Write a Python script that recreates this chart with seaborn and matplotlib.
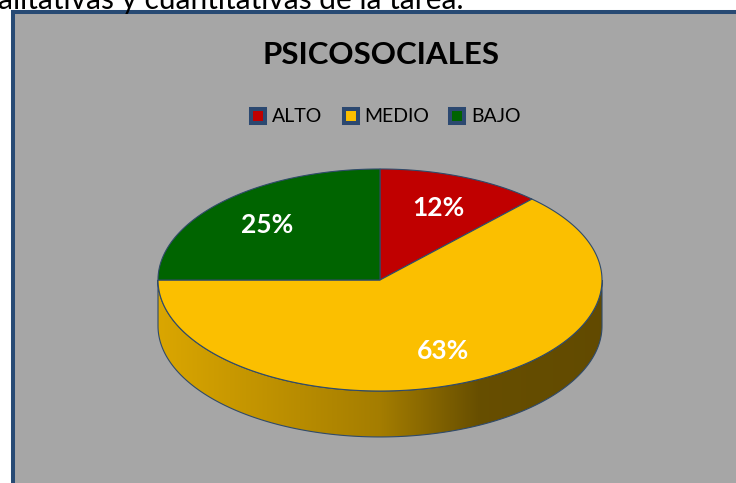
import numpy as np
import matplotlib
matplotlib.use("Agg")
import matplotlib.pyplot as plt
from matplotlib.patches import Polygon, Rectangle
from matplotlib.lines import Line2D
from matplotlib.colors import to_rgb
import seaborn as sns

# datos del gráfico
categorias = ["ALTO", "MEDIO", "BAJO"]
porcentajes = [12, 63, 25]
colores = ["#C00000", "#FBBF00", "#006400"]
titulo = "PSICOSOCIALES"
texto_superior = "alitativas y cuantitativas de la tarea."

sns.set_theme(style="white")
plt.rcParams["font.family"] = ["Lato", "DejaVu Sans"]
plt.rcParams["text.color"] = "black"

W, H = 736, 483
fig = plt.figure(figsize=(W / 100, H / 100), dpi=100)
fig.patch.set_facecolor("white")

# texto del documento cortado arriba
fig.text(-2 / W, 1 - 9 / H, texto_superior, fontsize=21.5, va="baseline", ha="left", color="black")

# cuadro gris del área del gráfico
fig.add_artist(Rectangle((12.5 / W, -0.1), 1.2, 1 - 11.5 / H + 0.1, transform=fig.transFigure,
                         facecolor="#A6A6A6", edgecolor="#274A74", linewidth=2.9, zorder=0))

fig.text(381 / W, 1 - 55 / H, titulo, fontsize=22.5, fontweight="bold", ha="center", va="center",
         color="black")

# leyenda
handles = [Line2D([], [], linestyle="none", marker="s", markersize=9.4, markerfacecolor=c,
                  markeredgecolor="#2B4870", markeredgewidth=2.9) for c in colores]
fig.legend(handles, categorias, loc="center", bbox_to_anchor=(385 / W, 1 - 117 / H), ncol=3,
           frameon=False, fontsize=14, handlelength=0.9, handletextpad=0.25, columnspacing=1.0,
           labelcolor="black")

# pastel 3D
ax = fig.add_axes([(380 - 240) / W, (H - 450) / H, 480 / W, 300 / H])
ax.axis("off")
ax.patch.set_alpha(0)

ry = 0.5
prof = 0.207
borde = "#2F4A6A"

fracs = np.array(porcentajes) / sum(porcentajes)
angulos = []
inicio = 90.0
for f in fracs:
    fin = inicio - f * 360
    angulos.append((fin, inicio))
    inicio = fin

# factores de sombreado para el costado
gx = np.linspace(-1, 1, 300)
factor = np.interp(gx, [-1, 0, 0.45, 1], [0.87, 0.655, 0.41, 0.39])

# costado frontal
for (a, b), col in zip(angulos, colores):
    for k in (-1, 0, 1):
        lo, hi = max(a, -180 + 360 * k), min(b, 360 * k)
        if hi <= lo:
            continue
        t = np.radians(np.linspace(lo, hi, 200))
        xs, ys = np.cos(t), ry * np.sin(t)
        pts = np.vstack([np.column_stack([xs, ys]), np.column_stack([xs[::-1], ys[::-1] - prof])])
        poly = Polygon(pts, closed=True, facecolor="none", edgecolor=borde, linewidth=0.8, zorder=3)
        ax.add_patch(poly)
        img = np.array(to_rgb(col))[None, None, :] * factor[None, :, None]
        im = ax.imshow(img, extent=[-1, 1, -ry - prof, 0], aspect="auto", interpolation="bilinear", zorder=2)
        im.set_clip_path(poly)

# cara superior
for (a, b), col, f in zip(angulos, colores, fracs):
    t = np.radians(np.linspace(b, a, 200))
    pts = np.vstack([[0, 0], np.column_stack([np.cos(t), ry * np.sin(t)])])
    ax.add_patch(Polygon(pts, closed=True, facecolor=col, edgecolor=borde, linewidth=0.8, zorder=4))
    m = np.radians((a + b) / 2)
    ax.text(0.72 * np.cos(m), 0.7 * ry * np.sin(m), f"{round(f * 100)}%",
            color="white", fontsize=19, fontweight="bold", ha="center", va="center", zorder=5)

ax.set_xlim(-240 / 222, 240 / 222)
ax.set_ylim(-170 / 222, 130 / 222)

fig.savefig("out.png", dpi=100, facecolor=fig.get_facecolor())
